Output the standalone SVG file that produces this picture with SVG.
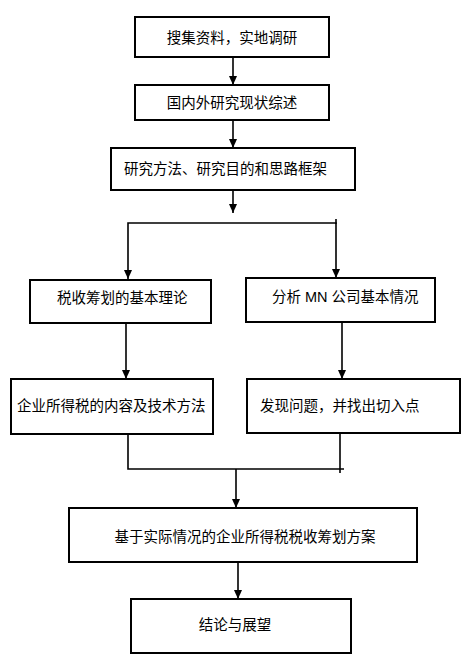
<svg xmlns="http://www.w3.org/2000/svg" width="473" height="664" viewBox="0 0 473 664">
<style>
.box{fill:#fff;stroke:#000;stroke-width:2}
.t{font-family:"Liberation Sans","Noto Sans CJK SC",sans-serif;font-size:14.5px;fill:#000;dominant-baseline:central}
.c{text-anchor:middle}
.ln{stroke:#000;stroke-width:1.6;fill:none}
</style>
<defs>
<marker id="ah" viewBox="0 0 9 8" refX="9" refY="4" markerWidth="9" markerHeight="8" markerUnits="userSpaceOnUse" orient="auto-start-reverse">
<path d="M0,0 L9,4 L0,8 Z" fill="#000"/>
</marker>
</defs>
<rect width="473" height="664" fill="#fff"/>
<g id="connectors">
<line class="ln" x1="233" y1="57" x2="233" y2="85" marker-end="url(#ah)"/>
<line class="ln" x1="233" y1="120" x2="233" y2="148" marker-end="url(#ah)"/>
<line class="ln" x1="233" y1="190" x2="233" y2="213" marker-end="url(#ah)"/>
<polyline class="ln" points="128,279 128,223 336,223 336,278" marker-start="url(#ah)" marker-end="url(#ah)"/>
<line class="ln" x1="336" y1="219" x2="336" y2="224"/>
<line class="ln" x1="126" y1="323" x2="126" y2="379" marker-end="url(#ah)"/>
<line class="ln" x1="342" y1="322" x2="342" y2="379" marker-end="url(#ah)"/>
<polyline class="ln" points="128,434 128,469 344,469"/>
<line class="ln" x1="340" y1="433" x2="340" y2="473"/>
<line class="ln" x1="236" y1="469" x2="236" y2="508" marker-end="url(#ah)"/>
<line class="ln" x1="238" y1="562" x2="238" y2="599" marker-end="url(#ah)"/>
</g>
<g id="n1"><rect class="box" x="135" y="17" width="194" height="40"/><text class="t c" x="232" y="38">搜集资料，实地调研</text></g>
<g id="n2"><rect class="box" x="135" y="85" width="194" height="35"/><text class="t c" x="232" y="103">国内外研究现状综述</text></g>
<g id="n3"><rect class="box" x="111" y="148" width="244" height="42"/><text class="t" x="124" y="169">研究方法、研究目的和思路框架</text></g>
<g id="n4"><rect class="box" x="30" y="280" width="181" height="43"/><text class="t" x="57" y="298">税收筹划的基本理论</text></g>
<g id="n5"><rect class="box" x="246" y="278" width="189" height="44"/><text class="t" x="272" y="297">分析 MN 公司基本情况</text></g>
<g id="n6"><rect class="box" x="11" y="379" width="202" height="55"/><text class="t" x="17" y="406">企业所得税的内容及技术方法</text></g>
<g id="n7"><rect class="box" x="247" y="379" width="213" height="54"/><text class="t" x="260" y="406">发现问题，并找出切入点</text></g>
<g id="n8"><rect class="box" x="69" y="508" width="348" height="54"/><text class="t c" x="245" y="537">基于实际情况的企业所得税税收筹划方案</text></g>
<g id="n9"><rect class="box" x="131" y="599" width="220" height="54"/><text class="t c" x="235" y="625">结论与展望</text></g>
</svg>
